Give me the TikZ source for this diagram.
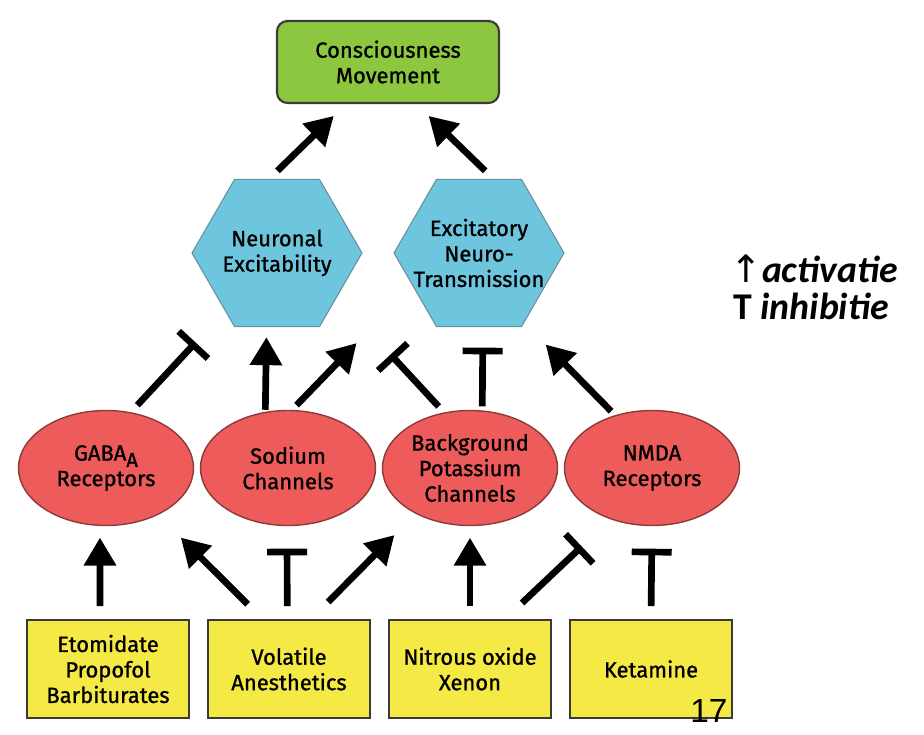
\documentclass[tikz,border=0pt]{standalone}
\usepackage{fontspec}
\setmainfont{Fira Sans}[FakeBold=1]
\newfontfamily\legendfont{Carlito}
\newfontfamily\arrowfont{DejaVu Sans}
\newfontfamily\pagefont{Liberation Sans}
\usepackage{xcolor}
\usepackage{tikz}
\usetikzlibrary{arrows.meta,positioning,shapes.geometric}
\definecolor{effectgreen}{HTML}{8DC63F}
\definecolor{hexblue}{HTML}{6EC6DE}
\definecolor{hexline}{HTML}{6A8E9C}
\definecolor{sitered}{HTML}{EE5B5B}
\definecolor{siteline}{HTML}{8E3A3A}
\definecolor{drugyellow}{HTML}{F5E946}
\definecolor{darkline}{HTML}{3A3A3A}
\tikzset{
  vtop/.style={draw=darkline,line width=1.2pt,fill=effectgreen,rounded corners=6pt,align=center,minimum width=4.44cm,minimum height=1.64cm},
  vhex/.style={draw=hexline,line width=0.6pt,fill=hexblue,regular polygon,regular polygon sides=6,minimum size=3.4cm,inner sep=0pt},
  vsite/.style={draw=siteline,line width=0.8pt,fill=sitered,ellipse,minimum width=3.5cm,minimum height=2.3cm,inner sep=0pt,align=center},
  vdrug/.style={draw=darkline,line width=1pt,fill=drugyellow,minimum width=3.24cm,minimum height=1.96cm,inner sep=0pt,align=center},
  vact/.style={-{Triangle[length=0.56cm,width=0.62cm]},line width=3.8pt},
  vinh/.style={-{Bar[width=0.8cm]},line width=3.8pt}
}

\begin{document}
\begin{tikzpicture}[font=\fontsize{12.5}{14.5}\selectfont]
  \useasboundingbox (0,0) rectangle (18.48,-14.7);
  \node[vtop] (cons) at (7.76,-1.24) {Consciousness\\Movement};
  \node[vhex,label={[align=center]center:Neuronal\\Excitability}] (neur) at (5.54,-5.06) {};
  \node[vhex,label={[align=center]center:Excitatory\\Neuro-\\Transmission}] (exci) at (9.58,-5.06) {};
  \foreach \x/\nm/\txt in {
     2.12/gaba/{GABA\raisebox{-0.55ex}{\fontsize{11.5}{12}\selectfont A}\\Receptors},
     5.76/sod/{Sodium\\Channels},
     9.40/bkp/{Background\\Potassium\\Channels},
     13.04/nmda/{NMDA\\Receptors}}{
    \node[vsite] (\nm) at (\x,-9.36) {\txt};
  }
  \foreach \x/\nm/\txt in {
     2.16/etom/{Etomidate\\Propofol\\Barbiturates},
     5.78/vola/{Volatile\\Anesthetics},
     9.40/nitr/{Nitrous oxide\\Xenon},
     13.02/keta/{Ketamine}}{
    \node[vdrug] (\nm) at (\x,-13.38) {\txt};
  }
  \draw[vact,shorten <=0.23cm,shorten >=0.34cm] (neur.96) -- (cons.-135);
  \draw[vact,shorten <=0.23cm,shorten >=0.34cm] (exci.79) -- (cons.-56);
  \draw[vinh,shorten <=0.19cm,shorten >=0.86cm] (gaba.66) -- (neur.-132);
  \draw[vact,shorten <=0.04cm,shorten >=0.2cm] (sod.112) -- (neur.-98.5);
  \draw[vact,shorten <=0.13cm,shorten >=1.6cm] (sod.86.5) -- (exci.-154);
  \draw[vinh,shorten <=0.16cm,shorten >=1.57cm] (bkp.115) -- (neur.-36);
  \draw[vinh,shorten <=0.08cm,shorten >=0.41cm] (bkp.78) -- (exci.-87.7);
  \draw[vact,shorten <=0.11cm,shorten >=0.61cm] (nmda.125.5) -- (exci.-57.6);
  \draw[vact,shorten <=0.26cm,shorten >=0.23cm] (etom.99) -- (gaba.-96);
  \draw[vact,shorten <=0.42cm,shorten >=0.64cm] (vola.118) -- (gaba.-42);
  \draw[vinh,shorten <=0.26cm,shorten >=0.45cm] (vola.92) -- (sod.-91);
  \draw[vact,shorten <=0.48cm,shorten >=0.6cm] (vola.66) -- (bkp.-140);
  \draw[vact,shorten <=0.26cm,shorten >=0.23cm] (nitr.north) -- (bkp.south);
  \draw[vinh,shorten <=0.47cm,shorten >=0.79cm] (nitr.55) -- (nmda.-129);
  \draw[vinh,shorten <=0.26cm,shorten >=0.45cm] (keta.north) -- (nmda.south);
  \node[anchor=base west,inner sep=0pt,font=\legendfont\fontsize{21.5}{24}\selectfont\bfseries] (legact) at (14.6,-5.66) {{\arrowfont\mdseries ↑}\textit{activatie}};
  \node[anchor=base west,inner sep=0pt,font=\legendfont\fontsize{21.5}{24}\selectfont\bfseries] (leginh) at (14.66,-6.40) {T \textit{inhibitie}};
  \node[anchor=base west,inner sep=0pt,font=\pagefont\fontsize{19}{22}\selectfont] (pagenr) at (13.8,-14.44) {17};
\end{tikzpicture}
\end{document}
